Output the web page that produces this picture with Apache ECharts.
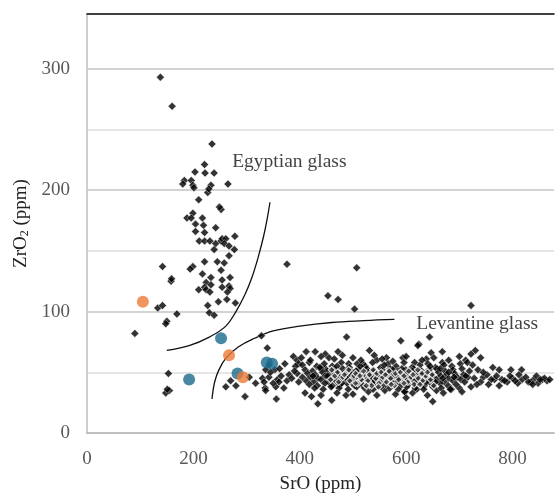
<!DOCTYPE html>
<html><head><meta charset="utf-8">
<script src="https://cdn.jsdelivr.net/npm/echarts@6/dist/echarts.min.js"></script>
<style>html,body{margin:0;padding:0;background:#fff}#c{width:557px;height:499px}</style>
</head><body><div id="c"></div>
<script>
// Axis ticks
const xTicks = [0, 200, 400, 600, 800];
const yTicks = [0, 100, 200, 300];

// Egyptian glass group (black diamonds)
const egyptian = [
[138,293],[160,269],[235,238],[221,221],[203,215],[222,214],[239,214],[183,208],[180,205],[196,208],[199,204],[201,202],[233,204],[265,205],
[227,198],[229,201],[210,192],[252,184],[249,186],[188,177],[199,181],[196,177],[217,177],[204,172],[219,171],[204,166],[242,169],[221,165],
[211,158],[221,158],[231,158],[242,156],[252,158],[254,160],[261,160],[278,162],[258,156],[267,154],[239,151],[277,151],[267,146],
[142,137],[199,137],[194,135],[221,141],[245,141],[258,140],[252,134],[217,131],[233,128],[254,126],[269,128],[158,125],[159,127],
[224,124],[233,122],[210,118],[221,120],[224,118],[231,116],[254,120],[267,121],[269,119],[264,116],[247,108],[263,110],[279,107],[227,105],
[133,103],[142,105],[169,98],[230,99],[239,97],[150,92],[148,90],[90,82],[153,49],[155,35],[148,33],[151,36]
];

// Levantine glass group and scattered points (black diamonds)
const levantine = [
[376,139],[507,136],[453,113],[472,110],[503,102],[722,105],[488,79],[590,76],[644,79],[624,73],[328,80],[339,70],
[412,67],[429,67],[448,65],[455,62],[472,67],[531,68],[388,63],[395,60],[398,57],[492,57],[519,57],[545,60],[563,62],[594,62],
[336,52],[353,52],[448,53],[395,49],[330,45],[342,46],[358,44],[376,43],[335,37],[355,38],[370,37],[356,28],[422,30],[434,24],
[487,31],[529,34],[560,35],[598,34],[297,30],[261,38],[270,43],[280,39],[305,46],[317,41],[333,42],[336,35],[361,42],
[622,72],[647,66],[668,67],[638,61],[616,58],[668,58],[730,68],[722,65],[712,60],[763,54],[775,52],[797,52],[817,52],
[766,44],[780,44],[800,45],[818,44],[840,44],[856,44],[775,39],[810,41],[835,42],[716,46],[722,38],[700,37],[657,35],
[685,36],[620,36],[597,34],[865,43],[848,41],[790,42],[745,46],[735,52],
[405,56],[418,58],[432,55],[446,57],[461,55],[478,58],[493,54],[508,57],[523,55],[537,58],[552,54],[566,57],[581,55],[596,58],
[611,54],[626,56],[641,57],[655,54],[671,56],[686,55],[702,57],
[410,52],[424,51],[439,53],[452,51],[467,52],[481,53],[496,51],[511,52],[526,53],[540,51],[555,52],[570,53],[584,51],[599,52],
[614,53],[629,51],[643,52],[658,53],[673,51],[688,52],[705,53],[719,51],
[415,49],[429,48],[443,50],[457,48],[470,49],[485,50],[499,48],[514,49],[529,50],[544,48],[558,49],[573,50],[588,48],[602,49],
[617,50],[632,48],[647,49],[661,50],[676,48],[691,49],[708,48],
[420,46],[434,45],[448,47],[462,45],[476,46],[490,47],[504,45],[518,46],[533,47],[547,45],[562,46],[577,47],[591,45],[606,46],
[621,47],[635,45],[650,46],[665,47],[680,45],[696,46],[712,47],
[412,43],[426,42],[440,44],[454,42],[468,43],[482,44],[497,42],[511,43],[525,44],[539,42],[554,43],[569,44],[583,42],[598,43],
[612,44],[627,42],[642,43],[657,44],[672,42],[688,43],[703,44],
[418,40],[433,39],[447,41],[461,39],[475,40],[489,41],[503,39],[517,40],[532,41],[546,39],[561,40],[575,41],[590,39],[604,40],
[619,41],[634,39],[649,40],[664,41],[679,39],[694,40],
[428,37],[444,36],[459,38],[474,37],[491,36],[507,38],[522,37],[538,36],[553,38],[569,37],[585,36],[601,38],[617,37],[633,36],
[650,38],[666,37],[683,36],
[438,54],[463,50],[488,45],[514,55],[541,43],[567,49],[592,53],[618,44],[645,55],[669,45],[452,47],[479,41],[506,51],[533,46],
[559,56],[585,46],[612,51],[638,42],[664,53],[690,46],[425,47],[470,55],[500,44],[550,47],[575,52],[600,45],[625,49],[655,42],
[680,50],[710,42],
[403,62],[420,60],[440,63],[465,61],[480,64],[500,62],[515,60],[540,64],[555,61],[575,59],[600,63],[630,60],[652,62],[680,60],
[700,63],[715,58],[740,62],[725,56],
[410,33],[440,31],[470,33],[500,32],[545,31],[580,32],[612,33],[640,31],[670,33],[705,34],[460,27],[520,28],[600,29],[650,26],
[345,50],[362,53],[380,48],[392,55],[372,57],[385,45],[398,42],[350,41],[365,47],[405,46],[342,56],[390,51],
[740,42],[752,48],[760,44],[770,47],[785,43],[795,47],[805,43],[825,46],[830,42],[845,47],[860,45],[870,44],[755,40],[812,48],
[838,40],[852,44],[745,50],[728,45],[733,40]
];

// Dense core of the Levantine group (overlapping markers)
const levantineCore = [
[458,44],[466,47],[473,42],[481,46],[486,49],[494,43],[502,47],[509,41],[516,44],[521,48],[528,43],[535,39],[543,45],[549,41],
[556,46],[563,42],[571,45],[578,39],[586,44],[593,48],[603,42],[609,46],[615,40],[623,45],[631,43],[637,47],[646,44],[652,39],
[460,52],[471,50],[484,48],[492,52],[505,49],[513,47],[520,51],[531,48],[538,52],[545,49],[553,50],[561,48],[568,51],[580,49],
[589,50],[596,47],[605,51],[613,48],[622,52],[630,49],[640,50],[649,48],[505,41],[525,39],[548,38],[572,40],[596,41],[626,40]
];

// Highlighted samples
const tealPoints = [[192,44],[252,78],[283,49],[338,58],[348,57]];
const orangePoints = [[105,108],[267,64],[293,46]];

// Boundary curves
const egyptCurve = [[150,68],[192,72],[230,79],[261,88],[280,100],[297,114],[310,128],[322,145],[332,162],[339,177],[344,190]];
const levantCurve = [[235,28],[240,42],[248,52],[262,62],[285,71],[315,78],[350,84],[400,88],[460,91],[520,92.5],[578,93.5]];

// Annotations
const labels = [
  {name: 'Egyptian glass', value: [273, 223]},
  {name: 'Levantine glass', value: [619, 89.5]}
];

const FONT = '"Liberation Serif","Times New Roman",serif';
const chart = echarts.init(document.getElementById('c'));
chart.setOption({
  animation: false,
  grid: {left: 87, right: 0, top: 14, bottom: 62},
  xAxis: [{
    type: 'value', min: 0, max: 878, interval: 200,
    name: 'SrO (ppm)', nameLocation: 'middle', nameGap: 42,
    nameTextStyle: {fontFamily: FONT, fontSize: 19, color: '#222'},
    axisLine: {show: true, lineStyle: {color: '#bfbfbf', width: 2}},
    axisTick: {show: false},
    splitLine: {show: false},
    axisLabel: {fontFamily: FONT, fontSize: 19, color: '#595959', margin: 17,
      formatter: v => xTicks.includes(v) ? String(v) : ''}
  }, {
    type: 'value', position: 'top', min: 0, max: 878,
    axisLine: {show: true, lineStyle: {color: '#111', width: 1.5}},
    axisTick: {show: false}, axisLabel: {show: false}, splitLine: {show: false}
  }],
  yAxis: {
    type: 'value', min: 0, max: 345, interval: 100,
    name: 'ZrO{sub|2} (ppm)', nameLocation: 'middle', nameGap: 54, nameRotate: 90,
    nameTextStyle: {fontFamily: FONT, fontSize: 19, color: '#222',
      rich: {sub: {fontFamily: FONT, fontSize: 12, color: '#222', verticalAlign: 'bottom', padding: [8,0,0,0]}}},
    axisLine: {show: true, lineStyle: {color: '#bfbfbf', width: 1.5}},
    axisTick: {show: false},
    minorTick: {show: false, splitNumber: 2},
    splitLine: {show: true, lineStyle: {color: '#c4c4c4', width: 1.5}},
    minorSplitLine: {show: true, lineStyle: {color: '#dedede', width: 1.5}},
    axisLabel: {fontFamily: FONT, fontSize: 19, color: '#595959', margin: 17,
      formatter: v => yTicks.includes(v) ? String(v) : ''}
  },
  series: [
    {type: 'line', data: egyptCurve, smooth: 0.4, showSymbol: false, symbol: 'none',
     lineStyle: {color: '#111', width: 1.3}, z: 3},
    {type: 'line', data: levantCurve, smooth: 0.4, showSymbol: false, symbol: 'none',
     lineStyle: {color: '#111', width: 1.3}, z: 3},
    {type: 'scatter', data: egyptian, symbol: 'diamond', symbolSize: 8,
     itemStyle: {color: '#000', borderColor: '#fff', borderWidth: 0.5}, z: 4},
    {type: 'scatter', data: levantine, symbol: 'diamond', symbolSize: 8,
     itemStyle: {color: '#000', borderColor: '#fff', borderWidth: 0.5}, z: 4},
    {type: 'scatter', data: levantineCore, symbol: 'diamond', symbolSize: 7,
     itemStyle: {color: '#333', borderColor: '#fff', borderWidth: 1.2}, z: 4},
    {type: 'scatter', data: tealPoints, symbol: 'circle', symbolSize: 12,
     itemStyle: {color: '#1c6a8c'}, z: 5},
    {type: 'scatter', data: orangePoints, symbol: 'circle', symbolSize: 12,
     itemStyle: {color: '#eb7a34'}, z: 5},
    {type: 'scatter', data: labels, symbolSize: 0, silent: true, z: 6,
     label: {show: true, position: 'right', distance: 0, formatter: p => p.name,
       fontFamily: FONT, fontSize: 19.5, color: '#111'}}
  ]
});
</script></body></html>
